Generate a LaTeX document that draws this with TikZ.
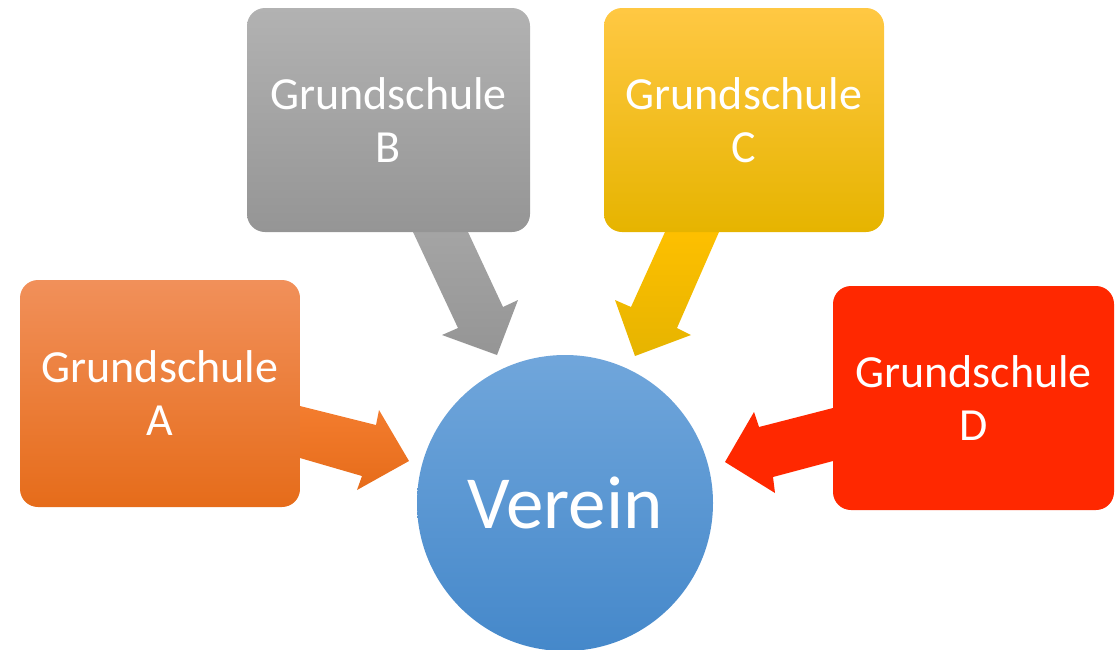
\documentclass[tikz,border=0pt]{standalone}
\usepackage{fontspec}
\setmainfont{Carlito}
\definecolor{orT}{HTML}{F1905A}
\definecolor{orM}{HTML}{F47D2F}
\definecolor{orB}{HTML}{E66C1A}
\definecolor{grT}{HTML}{B2B2B2}
\definecolor{grM}{HTML}{A5A5A5}
\definecolor{grB}{HTML}{959595}
\definecolor{yeT}{HTML}{FFC843}
\definecolor{yeM}{HTML}{FFC000}
\definecolor{yeB}{HTML}{E6B400}
\definecolor{rdC}{HTML}{FF2800}
\definecolor{blT}{HTML}{70A6DB}
\definecolor{blM}{HTML}{5B9BD5}
\definecolor{blB}{HTML}{4588CA}
\tikzset{
  schoolbox/.style={rectangle, rounded corners=18pt, inner sep=0pt,
    minimum width=#1, text=white, align=center,
    font=\fontsize{46}{53}\selectfont},
  schoolbox/.default=280pt,
  orangefill/.style={top color=orT, middle color=orM, bottom color=orB, draw=none},
  grayfill/.style={top color=grT, middle color=grM, bottom color=grB, draw=none},
  yellowfill/.style={top color=yeT, middle color=yeM, bottom color=yeB, draw=none},
  redfill/.style={fill=rdC, draw=none},
  bluefill/.style={top color=blT, middle color=blM, bottom color=blB, draw=none},
  blockarrow/.style={draw=none}
}
\begin{document}
\begin{tikzpicture}[x=1pt,y=-1pt]
\useasboundingbox (0,0) rectangle (1119,649);
% arrows (behind boxes)
\shade[blockarrow, top color=orM, bottom color=orB]
  (290,404) -- (300,406) -- (376,425) -- (379,410) -- (409,461) -- (357,490) -- (362,476) -- (300,458) -- (290,456) -- cycle;
\shade[blockarrow, top color=grM, bottom color=grB]
  (413,225) -- (413,232) -- (458,328) -- (442,335) -- (497,355) -- (518,300) -- (503,307) -- (468,232) -- (468,225) -- cycle;
\shade[blockarrow, top color=yeM, bottom color=yeB]
  (665,225) -- (665,232) -- (631,307) -- (615,300) -- (635,356) -- (691,335) -- (677,328) -- (719,232) -- (719,225) -- cycle;
\fill[blockarrow, redfill]
  (845,406) -- (833,408) -- (759,427) -- (754,412) -- (725,462) -- (775,493) -- (773,477) -- (833,461) -- (845,459) -- cycle;
% boxes
\node[schoolbox, orangefill, minimum height=227pt] (A) at (160,393.5) {Grundschule\\A};
\node[schoolbox=283pt, grayfill, minimum height=224pt] (B) at (388.5,120) {Grundschule\\B};
\node[schoolbox, yellowfill, minimum height=224pt] (C) at (744,120) {Grundschule\\C};
\node[schoolbox=281pt, redfill, minimum height=224pt] (D) at (973.5,398) {Grundschule\\D};
% circle
\node[circle, bluefill, minimum size=296pt, inner sep=0pt, text=white,
  font=\fontsize{75}{80}\selectfont] (V) at (565,503) {Verein};
\end{tikzpicture}
\end{document}
